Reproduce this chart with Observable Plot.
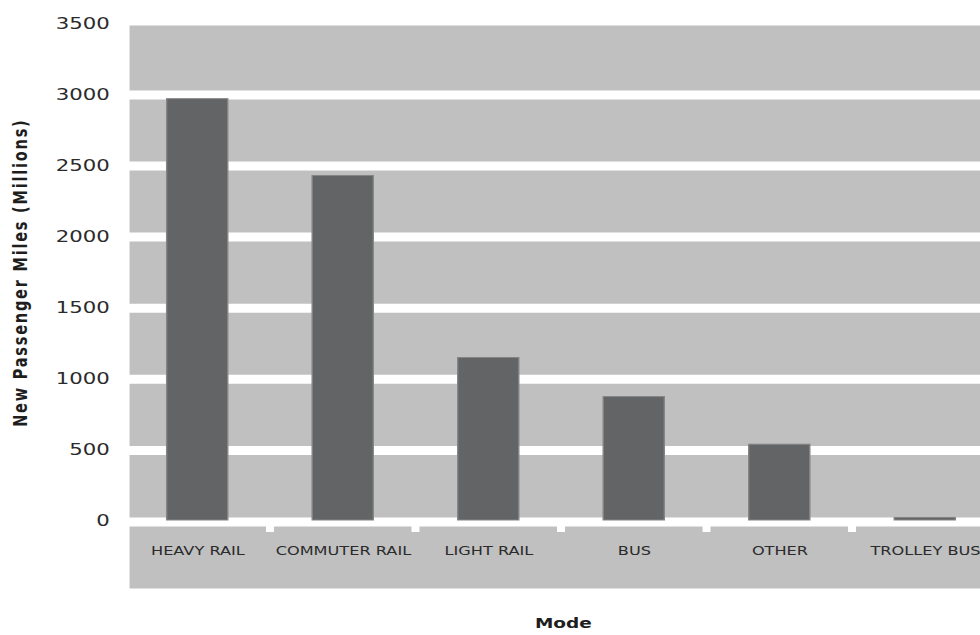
<!DOCTYPE html>
<html>
<head>
<meta charset="utf-8">
<script src="https://cdn.jsdelivr.net/npm/d3@7"></script>
<script src="https://cdn.jsdelivr.net/npm/@observablehq/plot@0.6"></script>
<style>
  html, body { margin: 0; padding: 0; overflow: hidden; background: #fff; }
</style>
</head>
<body>
<div id="chart"></div>
<script>
// ---- data ----
const modes = ["HEAVY RAIL", "COMMUTER RAIL", "LIGHT RAIL", "BUS", "OTHER", "TROLLEY BUS"];
const miles = [2970, 2430, 1150, 875, 540, 25];
const yTicks = [0, 500, 1000, 1500, 2000, 2500, 3000, 3500];
const gridValues = [500, 1000, 1500, 2000, 2500, 3000];
const yDomain = [0, 3500];
const yTitle = "New Passenger Miles (Millions)";
const xTitle = "Mode";

const data = modes.map((m, i) => ({mode: m, value: miles[i]}));

// drawn in a narrower coordinate space, then stretched horizontally like the original
const PAGE_W = 980, PAGE_H = 635;
const VB_W = 715;

const notches = (index, scales) => {
  const x = scales.x, y = scales.y;
  const g = d3.create("svg:g").attr("fill", "white");
  const half = (x.step() - x.bandwidth()) / 2;
  g.selectAll("rect")
    .data(modes.slice(1))
    .join("rect")
    .attr("x", d => x(d) - half - 2.9)
    .attr("width", 5.8)
    .attr("y", y(0))
    .attr("height", 11);
  return g.node();
};

const plot = Plot.plot({
  width: VB_W,
  height: PAGE_H,
  marginLeft: 94,
  marginRight: 0,
  marginTop: 25,
  marginBottom: 47,
  style: {fontFamily: "'DejaVu Sans', Verdana, sans-serif", fontSize: "15.5px", color: "#2b2b2b", background: "white"},
  x: {domain: modes, range: [90.8, 727.8], paddingInner: 0.58, paddingOuter: 0.29, round: false, axis: null},
  y: {domain: yDomain, range: [521, 23.3], ticks: yTicks, tickSize: 0, tickPadding: 14.5, tickFormat: d => String(d), label: null},
  marks: [
    Plot.frame({fill: "#c0c0c0"}),
    Plot.ruleY(gridValues, {stroke: "white", strokeWidth: 9}),
    Plot.ruleY([0], {stroke: "white", strokeWidth: 9, dy: 0.5}),
    notches,
    Plot.barY(data, {x: "mode", y: "value", fill: "#636466", stroke: "#858585", strokeWidth: 1, insetBottom: 1}),
    Plot.text(modes, {x: d => d, y: 0, dy: 30, fontSize: 11.8, fill: "#2b2b2b"}),
    Plot.text([yTitle], {frameAnchor: "left", textAnchor: "middle", y: d3.mean(yDomain), dx: -79.5, rotate: -90, fontWeight: "bold", fontSize: 14.5, fill: "#1e1e1e"}),
    Plot.text([xTitle], {frameAnchor: "bottom", dy: 39, dx: 6, fontWeight: "bold", fontSize: 13.5, fill: "#1e1e1e"})
  ]
});

plot.setAttribute("preserveAspectRatio", "none");
plot.style.width = PAGE_W + "px";
plot.style.height = PAGE_H + "px";
plot.style.maxWidth = "none";
d3.select(plot).selectAll("text").filter(function() { return this.textContent === yTitle; })
  .attr("letter-spacing", 1.8);

document.getElementById("chart").appendChild(plot);
</script>
</body>
</html>
